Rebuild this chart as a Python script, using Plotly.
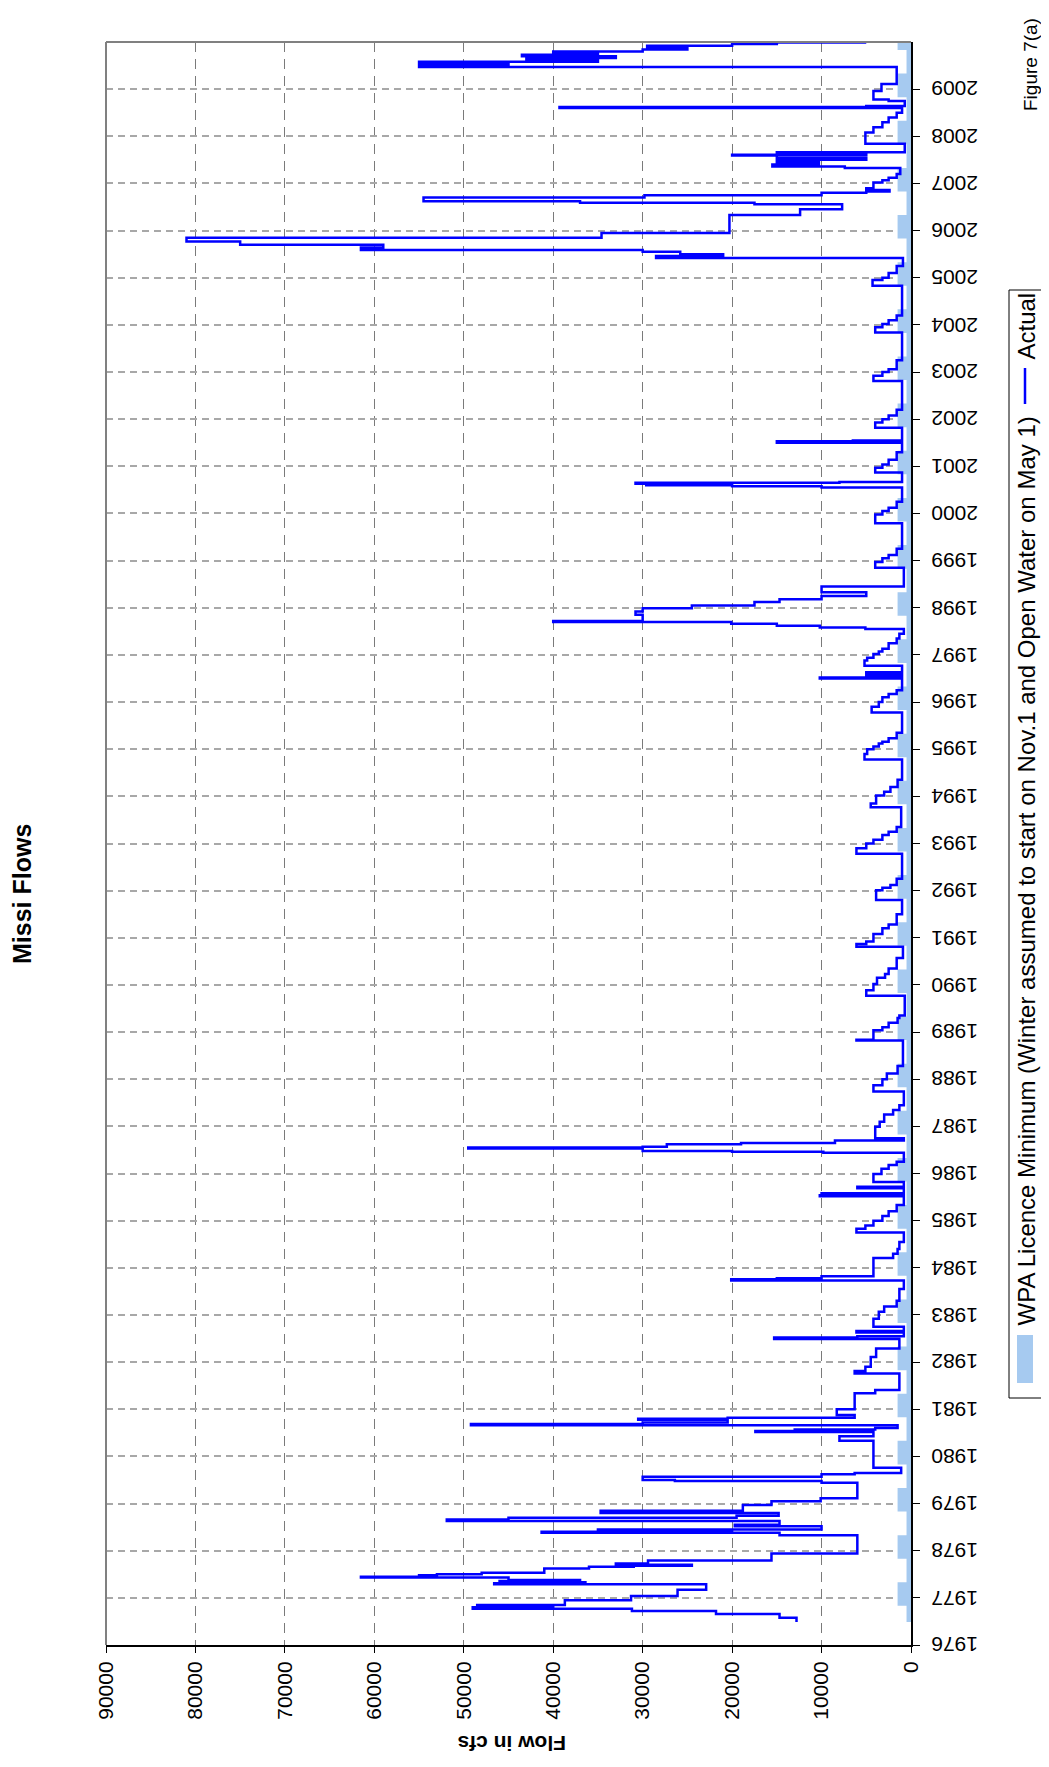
import plotly.graph_objects as go

# ---------------- data ----------------
year_ticks = list(range(1976, 2010))
year_labels = [str(y) for y in year_ticks]
flow_ticks = [0, 10000, 20000, 30000, 40000, 50000, 60000, 70000, 80000, 90000]

# Actual flow (cfs); each value holds from its time (decimal year) until the next time
act_t = [1976.49, 1976.58, 1976.657, 1976.72, 1976.77, 1976.80, 1976.83, 1976.85, 1976.95, 1977.04,
         1977.17, 1977.29, 1977.31, 1977.33, 1977.36, 1977.38, 1977.43, 1977.45, 1977.48, 1977.50,
         1977.53, 1977.62, 1977.66, 1977.68, 1977.70, 1977.73, 1977.79, 1977.94, 1978.33, 1978.38,
         1978.40, 1978.42, 1978.45, 1978.52, 1978.55, 1978.63, 1978.66, 1978.70, 1978.74, 1978.80,
         1978.85, 1978.97, 1979.05, 1979.11, 1979.44, 1979.48, 1979.50, 1979.57, 1979.62, 1979.65,
         1979.76, 1980.33, 1980.43, 1980.52, 1980.54, 1980.57, 1980.60, 1980.66, 1980.69, 1980.72,
         1980.78, 1980.80, 1980.82, 1980.88, 1981.00, 1981.34, 1981.41, 1981.76, 1981.81, 1981.90,
         1982.11, 1982.29, 1982.49, 1982.52, 1982.55, 1982.63, 1982.66, 1982.75, 1982.92, 1983.07,
         1983.18, 1983.30, 1983.55, 1983.73, 1983.76, 1983.78, 1983.82, 1984.21, 1984.30, 1984.40,
         1984.55, 1984.75, 1984.83, 1984.90, 1985.00, 1985.10, 1985.20, 1985.33, 1985.52, 1985.54,
         1985.56, 1985.58, 1985.69, 1985.72, 1985.82, 1985.99, 1986.10, 1986.18, 1986.25, 1986.44,
         1986.46, 1986.48, 1986.53, 1986.55, 1986.57, 1986.62, 1986.65, 1986.70, 1986.75, 1986.99,
         1987.10, 1987.25, 1987.35, 1987.45, 1987.74, 1987.87, 1988.00, 1988.12, 1988.28, 1988.82,
         1988.84, 1989.04, 1989.10, 1989.20, 1989.30, 1989.35, 1989.77, 1989.89, 1990.02, 1990.15,
         1990.23, 1990.35, 1990.57, 1990.81, 1990.87, 1990.92, 1991.08, 1991.20, 1991.28, 1991.50,
         1991.80, 1992.01, 1992.06, 1992.12, 1992.25, 1992.78, 1992.90, 1993.00, 1993.08, 1993.18,
         1993.25, 1993.35, 1993.77, 1993.85, 1994.02, 1994.10, 1994.20, 1994.35, 1994.78, 1994.90,
         1995.00, 1995.06, 1995.12, 1995.16, 1995.23, 1995.35, 1995.78, 1995.90, 1996.00, 1996.10,
         1996.17, 1996.25, 1996.50, 1996.52, 1996.55, 1996.60, 1996.63, 1996.77, 1996.88, 1996.94,
         1997.02, 1997.07, 1997.13, 1997.25, 1997.35, 1997.45, 1997.55, 1997.58, 1997.62, 1997.66,
         1997.70, 1997.72, 1997.85, 1997.92, 1997.99, 1998.05, 1998.12, 1998.18, 1998.25, 1998.33,
         1998.45, 1998.85, 1998.97, 1999.05, 1999.12, 1999.25, 1999.79, 1999.98, 2000.05, 2000.12,
         2000.25, 2000.55, 2000.58, 2000.60, 2000.63, 2000.65, 2000.67, 2000.87, 2000.97, 2001.04,
         2001.14, 2001.30, 2001.50, 2001.53, 2001.55, 2001.82, 2001.93, 2002.00, 2002.08, 2002.20,
         2002.81, 2002.92, 2003.00, 2003.06, 2003.25, 2003.84, 2003.95, 2004.02, 2004.10, 2004.20,
         2004.83, 2004.95, 2005.00, 2005.10, 2005.25, 2005.42, 2005.46, 2005.50, 2005.55, 2005.59,
         2005.64, 2005.70, 2005.77, 2005.85, 2005.95, 2006.33, 2006.45, 2006.56, 2006.59, 2006.62,
         2006.70, 2006.75, 2006.80, 2006.83, 2006.86, 2006.90, 2007.02, 2007.07, 2007.12, 2007.20,
         2007.33, 2007.36, 2007.40, 2007.45, 2007.50, 2007.55, 2007.59, 2007.61, 2007.64, 2007.66,
         2007.84, 2008.08, 2008.19, 2008.30, 2008.40, 2008.50, 2008.60, 2008.62, 2008.64, 2008.75,
         2008.78, 2008.96, 2009.11, 2009.47, 2009.52, 2009.55, 2009.58, 2009.62, 2009.66, 2009.70,
         2009.73, 2009.76, 2009.80, 2009.84, 2009.88, 2009.92, 2009.96, 2009.99]
act_v = [12800, 14700, 21800, 31200, 49000, 40000, 48500, 38700, 31300, 26100,
         22900, 46600, 36400, 46000, 37000, 45000, 61500, 55000, 53000, 48000,
         41000, 36000, 31000, 24500, 33000, 29400, 15600, 6000, 14700, 41300,
         20000, 35000, 10000, 19700, 14700, 51900, 45000, 19500, 14800, 34700,
         18800, 15600, 10100, 6000, 10000, 26400, 30000, 10000, 6300, 1100,
         4200, 8000, 4200, 17400, 13000, 4000, 1500, 49200, 30000, 20500,
         30500, 20500, 6300, 8300, 6300, 4000, 1300, 6300, 5100, 4500,
         3900, 1300, 15300, 6000, 800, 6100, 800, 4200, 3600, 3000,
         1600, 1300, 800, 20100, 15000, 10000, 4200, 2000, 1500, 1300,
         800, 6100, 5100, 4200, 3200, 2500, 1600, 800, 10200, 800,
         10000, 800, 6000, 800, 4200, 3300, 2500, 1600, 800, 9800,
         20000, 30000, 49500, 30000, 27300, 19000, 8500, 800, 4000, 3500,
         3000, 2000, 1300, 800, 4200, 3200, 2700, 1500, 900, 6100,
         4200, 3200, 2500, 1500, 1300, 700, 5000, 4200, 3800, 2900,
         2500, 1600, 900, 6100, 5000, 4200, 3200, 2500, 1600, 1000,
         3900, 3200, 2300, 1600, 1000, 6100, 5000, 4200, 3200, 2500,
         1600, 1100, 4500, 3900, 3000, 2300, 1500, 1000, 5200, 4900,
         4200, 3600, 3200, 2500, 1600, 1000, 4400, 3600, 3200, 2500,
         1600, 1000, 10200, 5000, 1000, 5000, 1000, 5200, 4900, 4200,
         3600, 3200, 2500, 1600, 1300, 800, 5100, 10200, 15000, 20100,
         40000, 30000, 30800, 30000, 24500, 17500, 14700, 10000, 5000, 10000,
         800, 4000, 3200, 2500, 1600, 1000, 4000, 3200, 2500, 1600,
         1000, 10000, 20000, 29600, 30800, 8000, 1000, 4000, 3200, 2500,
         1600, 1000, 15000, 6500, 1000, 4000, 3200, 2500, 1600, 1000,
         4200, 3200, 2500, 1600, 1000, 4000, 3200, 2500, 1600, 1000,
         4300, 3200, 2500, 1600, 900, 28500, 21000, 25800, 30000, 61500,
         59000, 75000, 81000, 34600, 20300, 12400, 7700, 17500, 37000, 54500,
         29800, 10000, 5000, 2400, 5000, 4200, 3200, 2500, 1600, 1200,
         7400, 15500, 10300, 15000, 5000, 15000, 20000, 5000, 15000, 700,
         5100, 4200, 3200, 2500, 1600, 1000, 39300, 5000, 700, 2500,
         4200, 3300, 1600, 55000, 45000, 55000, 35000, 43000, 33000, 43500,
         35000, 40000, 30000, 25000, 29500, 20000, 15000, 5000]

# WPA licence minimum (cfs): winter (from Nov 1) 1500, open water (from May 1) 500
lic_t = [1976.49, 1976.83, 1977.33, 1977.83, 1978.33, 1978.83, 1979.33, 1979.83, 1980.33, 1980.83,
         1981.33, 1981.83, 1982.33, 1982.83, 1983.33, 1983.83, 1984.33, 1984.83, 1985.33, 1985.83,
         1986.33, 1986.83, 1987.33, 1987.83, 1988.33, 1988.83, 1989.33, 1989.83, 1990.33, 1990.83,
         1991.33, 1991.83, 1992.33, 1992.83, 1993.33, 1993.83, 1994.33, 1994.83, 1995.33, 1995.83,
         1996.33, 1996.83, 1997.33, 1997.83, 1998.33, 1998.83, 1999.33, 1999.83, 2000.33, 2000.83,
         2001.33, 2001.83, 2002.33, 2002.83, 2003.33, 2003.83, 2004.33, 2004.83, 2005.33, 2005.83,
         2006.33, 2006.83, 2007.33, 2007.83, 2008.33, 2008.83, 2009.33, 2009.83, 2009.999]
lic_v = [500, 1500, 500, 1500, 500, 1500, 500, 1500, 500, 1500,
         500, 1500, 500, 1500, 500, 1500, 500, 1500, 500, 1500,
         500, 1500, 500, 1500, 500, 1500, 500, 1500, 500, 1500,
         500, 1500, 500, 1500, 500, 1500, 500, 1500, 500, 1500,
         500, 1500, 500, 1500, 500, 1500, 500, 1500, 500, 1500,
         500, 1500, 500, 1500, 500, 1500, 500, 1500, 500, 1500,
         500, 1500, 500, 1500, 500, 1500, 500, 1500, 1500]

# ---------------- layout geometry ----------------
# positions are measured in page pixels; the page body adds an 8px margin
OFF = 8
W, H = 1049 - OFF, 1767 - OFF
PL, PR, PT, PB = 106, 911, 42, 1645   # plot area edges (page pixels)


def px(x):
    return (x - PL) / (PR - PL)


def py(y):
    return (PB - y) / (PB - PT)


FONT = "Liberation Sans, Arial, sans-serif"
BLUE = "#0000FF"
LIC = "#A6CAF0"

fig = go.Figure()
fig.add_trace(go.Scatter(x=lic_v, y=lic_t, mode="lines", line=dict(width=0, shape="vh", color=LIC),
                         fill="tozerox", fillcolor=LIC, hoverinfo="skip", showlegend=False))
fig.add_trace(go.Scatter(x=act_v, y=act_t, mode="lines", line=dict(width=2.5, shape="vh", color=BLUE),
                         showlegend=False))

fig.update_layout(
    width=W, height=H, autosize=False,
    margin=dict(l=PL - OFF, r=(W + OFF) - PR, t=PT - OFF, b=(H + OFF) - PB, pad=0),
    paper_bgcolor="white", plot_bgcolor="white",
    font=dict(family=FONT, color="black"),
    showlegend=False,
    xaxis=dict(range=[90000, 0], tickvals=flow_ticks, ticktext=[str(v) for v in flow_ticks],
               tickangle=-90, tickfont=dict(size=21, family=FONT, color="black"),
               showgrid=True, gridcolor="#7A7A7A", gridwidth=1.2, griddash="10px,7px",
               ticks="outside", ticklen=6, tickwidth=1, tickcolor="black",
               showline=True, linecolor="black", linewidth=2, zeroline=False),
    yaxis=dict(range=[1976, 2010], side="right", tickvals=year_ticks, showticklabels=False,
               showgrid=True, gridcolor="#A8A8A8", gridwidth=1.5, griddash="7px,5px",
               ticks="outside", ticklen=7, tickwidth=1, tickcolor="black",
               showline=True, linecolor="black", linewidth=2, zeroline=False),
)

shapes = [
    # gray left and top borders of the plot area
    dict(type="line", xref="paper", yref="paper", x0=0, x1=0, y0=0, y1=1, line=dict(color="#808080", width=2)),
    dict(type="line", xref="paper", yref="paper", x0=0, x1=1, y0=1, y1=1, line=dict(color="#808080", width=2)),
    # legend box
    dict(type="rect", xref="paper", yref="paper", x0=px(1009), x1=px(1042), y0=py(1398), y1=py(290),
         line=dict(color="black", width=1), fillcolor="white"),
    # legend patch
    dict(type="rect", xref="paper", yref="paper", x0=px(1017), x1=px(1033), y0=py(1383), y1=py(1335),
         line=dict(width=0), fillcolor=LIC),
    # legend line symbol
    dict(type="line", xref="paper", yref="paper", x0=px(1025), x1=px(1025), y0=py(404), y1=py(368),
         line=dict(color=BLUE, width=2.5)),
]
fig.update_layout(shapes=shapes)

annotations = [
    dict(text="<b>Missi Flows</b>", x=px(22), y=py(894), xref="paper", yref="paper", showarrow=False,
         textangle=-90, font=dict(size=25, family=FONT, color="black"), xanchor="center", yanchor="middle"),
    dict(text="<b>Flow in cfs</b>", x=px(511), y=py(1743), xref="paper", yref="paper", showarrow=False,
         textangle=180, font=dict(size=21, family=FONT, color="black"), xanchor="center", yanchor="middle"),
    dict(text="Figure 7(a)", x=px(1031), y=py(65), xref="paper", yref="paper", showarrow=False,
         textangle=-90, font=dict(size=19, family=FONT, color="black"), xanchor="center", yanchor="middle"),
    dict(text="WPA Licence Minimum (Winter assumed to start on Nov.1 and Open Water on May 1)",
         x=px(1026), y=py(1328), xref="paper", yref="paper", showarrow=False,
         textangle=-90, font=dict(size=24, family=FONT, color="black"), xanchor="center", yanchor="bottom"),
    dict(text="Actual", x=px(1026), y=py(362), xref="paper", yref="paper", showarrow=False,
         textangle=-90, font=dict(size=24, family=FONT, color="black"), xanchor="center", yanchor="bottom"),
]
# year labels on the right-hand axis (upside down)
for yv, lab in zip(year_ticks, year_labels):
    annotations.append(dict(text=lab, x=px(929), y=yv, xref="paper", yref="y", showarrow=False,
                            textangle=180, font=dict(size=21, family=FONT, color="black"),
                            xanchor="left", yanchor="middle"))
fig.update_layout(annotations=annotations)

fig.write_html("out.html")
